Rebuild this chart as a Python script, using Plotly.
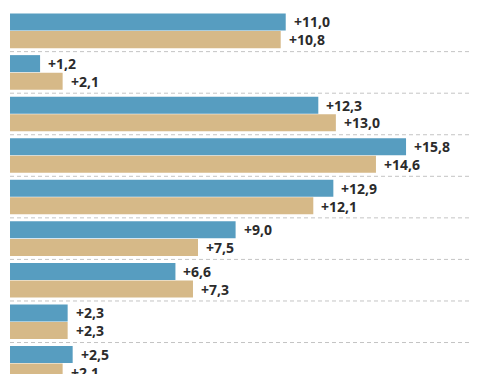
import plotly.graph_objects as go

categories = ["1", "2", "3", "4", "5", "6", "7", "8", "9"]
blue_values = [11.0, 1.2, 12.3, 15.8, 12.9, 9.0, 6.6, 2.3, 2.5]
tan_values = [10.8, 2.1, 13.0, 14.6, 12.1, 7.5, 7.3, 2.3, 2.1]

BLUE = "#579dc0"
TAN = "#d6b988"

def fmt(v):
    return "+" + f"{v:.1f}".replace(".", ",")

fig = go.Figure()
fig.add_trace(go.Bar(y=categories, x=blue_values, orientation="h",
                     marker=dict(color=BLUE, line=dict(width=0)), hoverinfo="skip"))
fig.add_trace(go.Bar(y=categories, x=tan_values, orientation="h",
                     marker=dict(color=TAN, line=dict(width=0)), hoverinfo="skip"))

annotations = []
for i, c in enumerate(categories):
    for v, off in ((blue_values[i], -0.215), (tan_values[i], 0.215)):
        annotations.append(dict(
            x=v, y=i + off, xref="x", yref="y", text="<b>" + fmt(v) + "</b>",
            showarrow=False, xanchor="left", yanchor="middle", xshift=6,
            font=dict(family="Open Sans", size=14, color="#2b2b2b")))

shapes = []
for i in range(len(categories) - 1):
    shapes.append(dict(type="line", xref="x", yref="y", x0=0, x1=19.5,
                       y0=i + 0.5, y1=i + 0.5,
                       line=dict(color="#c4c4c4", width=1, dash="4px,3px"),
                       layer="below"))

fig.update_layout(
    width=477, height=374,
    margin=dict(l=0, r=0, t=0, b=0),
    paper_bgcolor="white", plot_bgcolor="white",
    barmode="group", bargap=0.155, bargroupgap=0.03,
    showlegend=False,
    annotations=annotations, shapes=shapes,
    xaxis=dict(range=[-0.08, 18.95], visible=False, fixedrange=True),
    yaxis=dict(type="category", range=[8.45, -0.55], visible=False, fixedrange=True),
)

fig.write_html("out.html")
